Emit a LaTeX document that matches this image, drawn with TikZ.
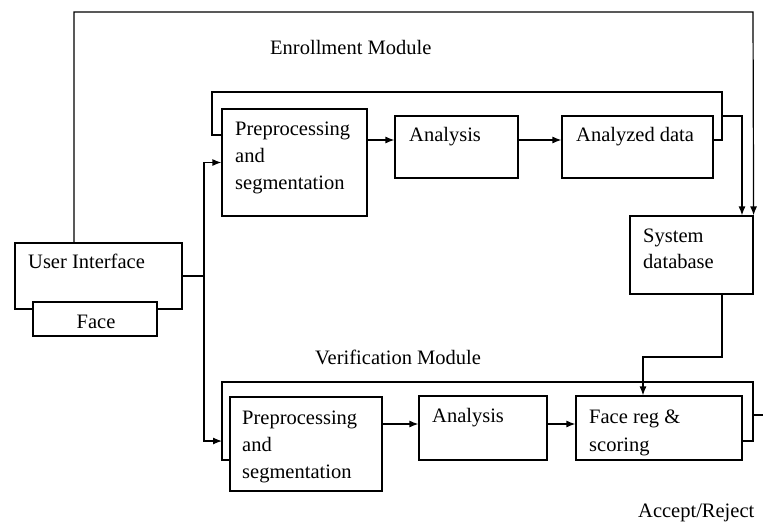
\documentclass[tikz,border=0pt]{standalone}
\usepackage{fontspec}
\setmainfont{Liberation Serif}
\usetikzlibrary{arrows.meta}
\begin{document}
\begin{tikzpicture}[x=1pt,y=-1pt,
  box/.style={draw, line width=1.2pt, rectangle, inner sep=0pt},
  ln/.style={draw, line width=1.2pt},
  arr/.style={ln, -{Latex[length=9pt,width=7pt]}},
  lbl/.style={anchor=base west, inner sep=0pt, font=\fontsize{20.5}{24}\selectfont},
  lblc/.style={anchor=base, inner sep=0pt, font=\fontsize{20.5}{24}\selectfont}]
\useasboundingbox (0,0) rectangle (763,523);
% boxes
\node[box, minimum width=167pt, minimum height=66pt] (ui) at (98.5,276) {};
\node[box, fill=white, minimum width=124pt, minimum height=34pt] (face) at (95,319) {};
\node[box, minimum width=145pt, minimum height=107pt] (ep) at (294.5,162.5) {};
\node[box, minimum width=123pt, minimum height=62pt] (ea) at (456.5,147) {};
\node[box, minimum width=151pt, minimum height=62pt] (ed) at (637.5,147) {};
\node[box, minimum width=123pt, minimum height=78pt] (sd) at (691.5,255) {};
\node[box, minimum width=152pt, minimum height=94pt] (vp) at (306,444) {};
\node[box, minimum width=128pt, minimum height=64pt] (va) at (483,428) {};
\node[box, minimum width=166pt, minimum height=64pt] (vf) at (659,428) {};
% labels
\node[lbl] (tEnr) at (270,54) {Enrollment Module};
\node[lbl] (tVer) at (315,364) {Verification Module};
\node[lbl] (tAcc) at (638,517) {Accept/Reject};
\node[lbl] (tUI) at (28,268) {User Interface};
\node[lblc] (tFace) at (96,328) {Face};
\node[lbl] (tEP1) at (235,135) {Preprocessing};
\node[lbl] (tEP2) at (235,162) {and};
\node[lbl] (tEP3) at (235,189) {segmentation};
\node[lbl] (tEA) at (409,141) {Analysis};
\node[lbl] (tED) at (576,141) {Analyzed data};
\node[lbl] (tSD1) at (643,242) {System};
\node[lbl] (tSD2) at (643,268) {database};
\node[lbl] (tVP1) at (242,424) {Preprocessing};
\node[lbl] (tVP2) at (242,451) {and};
\node[lbl] (tVP3) at (242,478) {segmentation};
\node[lbl] (tVA) at (432,422) {Analysis};
\node[lbl] (tVF1) at (589,423) {Face reg \&};
\node[lbl] (tVF2) at (589,451) {scoring};
% coordinates
\coordinate (junc) at (204,0 |- ui.east);
\coordinate (vin) at (222,441);
\coordinate (efr) at (722,116);
\coordinate (out) at (763,415);
% connectors
\draw[arr] (74,0 |- ui.north) -- (74,12) -- (753,12) -- (sd.north east);
\draw[arr] (ui.east) -- (junc) |- (ep.west);
\draw[arr] (junc) |- (vin);
\draw[arr] (ep.east |- 0,140) -- (ea.west |- 0,140);
\draw[arr] (ea.east |- 0,140) -- (ed.west |- 0,140);
\draw[ln] (ep.west |- 0,135) -- (212,135) -- (212,92) -- (722,92) -- (722,140) -- (ed.east |- 0,140);
\draw[arr] (efr) -| (742,0 |- sd.north);
\draw[arr] (722,0 |- sd.south) -- (722,357) -| (643,0 |- vf.north);
\draw[arr] (vp.east |- 0,424) -- (va.west |- 0,424);
\draw[arr] (va.east |- 0,424) -- (vf.west |- 0,424);
\draw[ln] (vp.west |- 0,460) -- (222,460) -- (222,382) -- (753,382) -- (753,441) -- (vf.east |- 0,441);
\draw[ln] (753,415) -- (out);
\end{tikzpicture}
\end{document}
